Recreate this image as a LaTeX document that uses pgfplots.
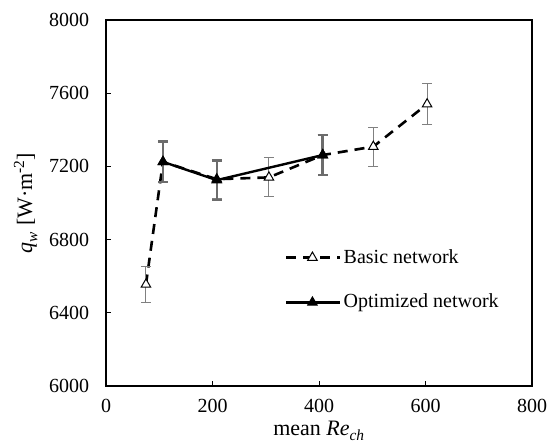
\documentclass[border=0pt]{standalone}
\usepackage{fontspec}
\setmainfont{Liberation Serif}
\usepackage{unicode-math}
\setmathfont{Latin Modern Math}
\usepackage{pgfplots}
\pgfplotsset{compat=1.18}
\begin{document}
\begin{tikzpicture}
\fontsize{20}{24}\selectfont
\begin{axis}[
  scale only axis, width=426pt, height=366pt,
  xmin=0, xmax=800, ymin=6000, ymax=8000,
  xtick={0,200,400,600,800}, ytick={6000,6400,6800,7200,7600,8000},
  xtick pos=left, ytick pos=left, tick align=inside,
  major tick length=5pt,
  tick style={black, line width=1pt},
  axis line style={black, line width=1.3pt},
  /pgf/number format/assume math mode=true,
  /pgf/number format/1000 sep={},
  ticklabel style={font=\fontsize{20}{24}\selectfont},
  yticklabel style={xshift=-10pt},
  xticklabel style={yshift=-6pt},
  xlabel={mean \textit{Re}$_{\mathit{ch}}$},
  ylabel={\textit{q}$_{\mathit{w}}$ [W·m$^{\text{-2}}$]},
  label style={font=\fontsize{22}{26}\selectfont},
  xlabel style={yshift=5pt},
  ylabel style={yshift=-2pt},
  legend style={draw=none, fill=none, at={(axis cs:336,6760)}, anchor=north west,
    font=\fontsize{20}{24}\selectfont, row sep=24pt, inner sep=0pt},
  legend cell align=left,
  legend image code/.code={\draw[mark repeat=2,mark phase=2,#1] plot coordinates {(0pt,0pt)(26pt,0pt)(54pt,0pt)};},
]
\addplot[black, line width=2.6pt, dash pattern=on 10pt off 7pt,
  mark=triangle*, mark size=5.5pt, mark options={solid, fill=white, line width=1pt},
  error bars/.cd, y dir=both, y explicit,
  error bar style={solid, gray, line width=1pt},
  error mark options={rotate=90, mark size=5pt, gray, line width=1pt}]
  coordinates {
  (75,6555) +- (0,97)
  (107,7225) +- (0,110)
  (208,7130) +- (0,108)
  (306,7140) +- (0,106)
  (407,7262) +- (0,110)
  (502,7308) +- (0,107)
  (603,7540) +- (0,113)
  };
\addlegendentry{Basic network}
\addplot[black, line width=2.4pt,
  mark=triangle*, mark size=5.5pt, mark options={solid, fill=black, line width=1pt},
  error bars/.cd, y dir=both, y explicit,
  error bar style={solid, gray!85!black, line width=2.5pt},
  error mark options={rotate=90, mark size=5pt, gray!85!black, line width=2.5pt}]
  coordinates {
  (107,7225) +- (0,110)
  (208,7125) +- (0,108)
  (407,7262) +- (0,110)
  };
\addlegendentry{Optimized network}
\end{axis}
\path ([xshift=-106pt,yshift=-61pt]current axis.south west) rectangle ([xshift=22pt,yshift=20pt]current axis.north east);
\end{tikzpicture}
\end{document}
